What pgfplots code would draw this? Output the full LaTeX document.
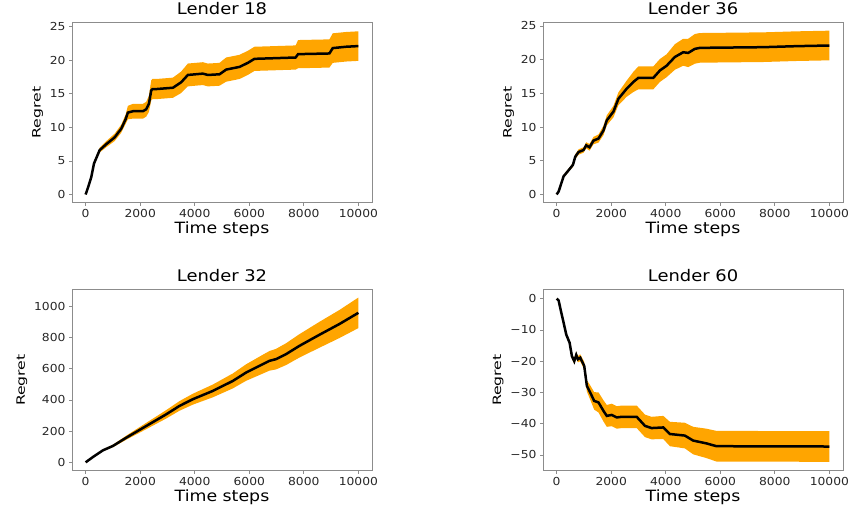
\documentclass[border=0pt]{standalone}
\usepackage{fontspec}
\setmainfont{DejaVu Sans}[FakeStretch=1.12]
\usepackage{pgfplots}
\usepackage{pgfplotstable}
\pgfplotsset{compat=1.18}
\definecolor{bandorange}{HTML}{FFA500}
\definecolor{spine}{HTML}{8C8C8C}

% t = time step, m = mean regret, lo/hi = band
\pgfplotstableread{
t m lo hi
0 0.0 0.0 0.0
100 1.2 1.1 1.3
207 2.6 2.45 2.75
305 4.6 4.35 4.85
513 6.6 6.25 6.95
757 7.5 7.05 7.95
1062 8.5 7.95 9.05
1306 9.8 9.2 10.4
1465 11.2 10.5 11.9
1550 12.2 11.2 13.2
1734 12.4 11.3 13.5
2100 12.4 11.3 13.5
2222 12.7 11.6 13.8
2320 13.5 12.3 14.7
2405 15.5 14.0 17.0
2450 15.7 14.2 17.2
2589 15.7 14.2 17.2
3200 15.9 14.4 17.4
3500 16.7 15.1 18.3
3748 17.8 16.1 19.5
4298 18.0 16.3 19.7
4481 17.8 16.1 19.5
4908 17.9 16.2 19.6
5152 18.6 16.8 20.4
5641 19.0 17.2 20.8
5946 19.6 17.8 21.4
6190 20.2 18.4 22.0
7700 20.4 18.6 22.2
7790 20.9 18.8 23.0
8938 21.0 18.9 23.1
9060 21.8 19.6 24.0
9548 22.0 19.8 24.2
10000 22.1 19.9 24.3
}\tabA

\pgfplotstableread{
t m lo hi
0 0.0 0.0 0.0
73 0.45 0.35 0.55
256 2.7 2.5 2.9
500 3.9 3.65 4.15
597 4.4 4.1 4.7
682 5.6 5.25 5.95
804 6.3 5.9 6.7
987 6.6 6.2 7.0
1084 7.3 6.85 7.75
1206 7.0 6.5 7.5
1352 8.0 7.45 8.55
1535 8.3 7.7 8.9
1717 9.5 8.8 10.2
1839 11.0 10.25 11.75
2083 12.3 11.45 13.15
2265 14.2 13.25 15.15
2570 15.7 14.5 16.9
2814 16.7 15.2 18.2
2996 17.3 15.6 19.0
3544 17.3 15.6 19.0
3788 18.4 16.7 20.1
4032 19.1 17.4 20.8
4336 20.4 18.5 22.3
4641 21.1 19.1 23.1
4823 21.0 18.9 23.1
5067 21.6 19.4 23.8
5250 21.75 19.55 23.95
7564 21.85 19.65 24.05
8782 22.0 19.8 24.2
10000 22.1 19.9 24.3
}\tabB

\pgfplotstableread{
t m lo hi
0 0 0 0
268 34 32 36
635 77 72 82
1000 105 97 113
1490 158 145 171
1978 208 190 226
2955 308 281 335
3443 362 331 393
3932 405 370 440
4664 458 417 499
5397 522 474 570
5885 576 523 629
6374 619 560 678
6740 651 588 714
6984 662 596 728
7350 694 624 764
7839 747 672 822
8571 818 735 901
9304 887 797 977
10000 959 861 1057
}\tabC

\pgfplotstableread{
t m lo hi
0 0.0 0.0 0.0
73 -0.6 -0.8 -0.4
158 -4.0 -4.3 -3.7
256 -7.7 -8.1 -7.3
353 -11.5 -12.0 -11.0
475 -14.1 -14.7 -13.5
560 -18.4 -19.2 -17.6
646 -20.0 -20.9 -19.1
719 -18.0 -19.0 -17.0
780 -19.4 -20.4 -18.4
865 -18.9 -20.0 -17.8
1011 -21.5 -22.8 -20.2
1108 -27.9 -29.7 -26.1
1230 -30.0 -32.3 -27.7
1376 -32.7 -35.5 -29.9
1535 -33.2 -36.4 -30.0
1717 -35.9 -39.3 -32.5
1839 -37.5 -41.0 -34.0
2022 -37.2 -40.8 -33.6
2205 -38.0 -41.6 -34.4
2387 -37.8 -41.4 -34.2
2935 -37.8 -41.4 -34.2
3240 -40.7 -44.3 -37.1
3483 -41.4 -45.0 -37.8
3910 -41.2 -44.9 -37.5
4153 -43.3 -47.2 -39.4
4701 -43.8 -47.9 -39.7
5006 -45.4 -49.8 -41.0
5493 -46.3 -51.0 -41.6
5859 -47.2 -52.1 -42.3
10000 -47.3 -52.2 -42.4
}\tabD

\pgfplotsset{
  lender/.style={
    scale only axis,
    width=300pt,
    xmin=-500, xmax=10500,
    xtick={0,2000,...,10000},
    axis line style={spine, line width=0.8pt},
    tick style={spine, line width=0.8pt},
    tick align=outside,
    major tick length=3pt,
    xtick pos=left, ytick pos=left,
    ticklabel style={font=\fontsize{11}{13}\selectfont, text=black!85},
    /pgf/number format/assume math mode=true,
    /pgf/number format/1000 sep={},
    scaled x ticks=false,
    scaled y ticks=false,
    xlabel={Time steps},
    ylabel={\scalebox{1.22}[1]{Regret}},
    xlabel style={font=\fontsize{15.5}{18}\selectfont, inner sep=1pt},
    ylabel style={font=\fontsize{11.5}{14}\selectfont},
    title style={font=\fontsize{16}{19}\selectfont, inner sep=2pt},
  },
  band/.style={fill=bandorange, draw=none},
  meanline/.style={black, line width=2.5pt},
}

\begin{document}
\begin{tikzpicture}
\path (0,0) rectangle (853pt,508pt);

\begin{axis}[lender, at={(72pt,310pt)}, anchor=south west, height=180pt,
  ymin=-1.2, ymax=25.6, ytick={0,5,...,25}, title={Lender 18}]
  \addplot[draw=none, stack plots=y, forget plot] table[x=t,y=lo]{\tabA};
  \addplot[band, stack plots=y] table[x=t,y expr=\thisrow{hi}-\thisrow{lo}]{\tabA} \closedcycle;
  \addplot[meanline, stack plots=false] table[x=t,y=m]{\tabA};
\end{axis}

\begin{axis}[lender, at={(543pt,310pt)}, anchor=south west, height=180pt,
  ymin=-1.2, ymax=25.5, ytick={0,5,...,25}, title={Lender 36}]
  \addplot[draw=none, stack plots=y, forget plot] table[x=t,y=lo]{\tabB};
  \addplot[band, stack plots=y] table[x=t,y expr=\thisrow{hi}-\thisrow{lo}]{\tabB} \closedcycle;
  \addplot[meanline, stack plots=false] table[x=t,y=m]{\tabB};
\end{axis}

\begin{axis}[lender, at={(72pt,42pt)}, anchor=south west, height=181pt,
  ymin=-53, ymax=1108, ytick={0,200,...,1000}, title={Lender 32}]
  \addplot[draw=none, stack plots=y, forget plot] table[x=t,y=lo]{\tabC};
  \addplot[band, stack plots=y] table[x=t,y expr=\thisrow{hi}-\thisrow{lo}]{\tabC} \closedcycle;
  \addplot[meanline, stack plots=false] table[x=t,y=m]{\tabC};
\end{axis}

\begin{axis}[lender, at={(543pt,42pt)}, anchor=south west, height=181pt,
  ymin=-55, ymax=2.9, ytick={-50,-40,...,0},
  yticklabels={−50,−40,−30,−20,−10,0}, title={Lender 60}]
  \addplot[draw=none, stack plots=y, forget plot] table[x=t,y=lo]{\tabD};
  \addplot[band, stack plots=y] table[x=t,y expr=\thisrow{hi}-\thisrow{lo}]{\tabD} \closedcycle;
  \addplot[meanline, stack plots=false] table[x=t,y=m]{\tabD};
\end{axis}
\end{tikzpicture}
\end{document}
